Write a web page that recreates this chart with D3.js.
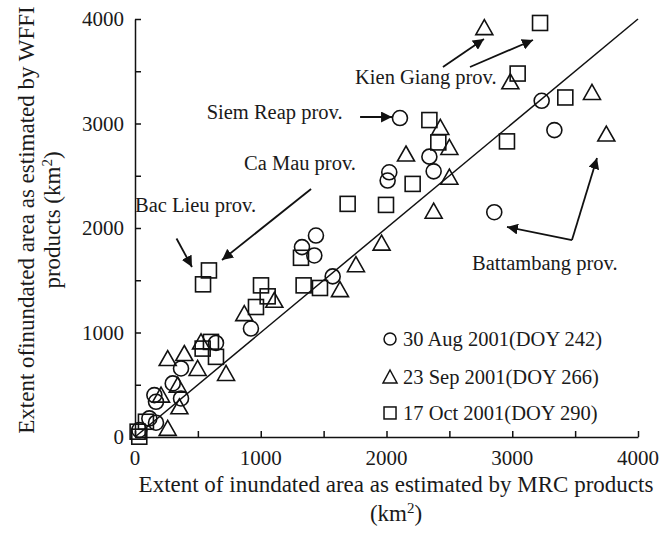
<!DOCTYPE html>
<html>
<head>
<meta charset="utf-8">
<script src="https://cdn.jsdelivr.net/npm/d3@7"></script>
<style>
  body { margin: 0; background: #fff; }
  text { font-family: "Liberation Serif", "Times New Roman", serif; fill: #1a1a1a; }
</style>
</head>
<body>
<div id="wrapper"></div>
<script>
// values: [MRC km2, WFFI km2]
const doy242 = [
  [34, 67], [114, 178], [167, 137], [154, 401], [167, 337], [300, 513], [366, 369], [366, 656],
  [644, 900], [922, 1038], [1328, 1817], [1426, 1737], [1439, 1928], [1572, 1537], [2009, 2454],
  [2022, 2533], [2107, 3052], [2341, 2683], [2375, 2542], [2857, 2151], [3234, 3217], [3335, 2937]
]
const doy266 = [
  [260, 83], [207, 401], [353, 289], [340, 496], [498, 656], [724, 608], [260, 751], [392, 799],
  [525, 910], [869, 1181], [1108, 1308], [1630, 1410], [1757, 1649], [1961, 1855], [2155, 2708],
  [2375, 2161], [2428, 2962], [2500, 2771], [2500, 2486], [2778, 3917], [2985, 3399], [3634, 3297],
  [3748, 2899]
]
const doy290 = [
  [34, 3], [21, 51], [87, 146], [538, 846], [604, 910], [644, 767], [541, 1461], [588, 1594],
  [962, 1244], [1002, 1451], [1055, 1346], [1320, 1715], [1341, 1451], [1471, 1426], [1691, 2231],
  [1996, 2221], [2208, 2422], [2341, 3033], [2412, 2819], [2958, 2829], [3043, 3478], [3221, 3962],
  [3422, 3249]
]
const seriesNames = ["30 Aug 2001(DOY 242)", "23 Sep 2001(DOY 266)", "17 Oct 2001(DOY 290)"]
const axisTicks = [0, 500, 1000, 1500, 2000, 2500, 3000, 3500, 4000]
const tickLabels = [0, 1000, 2000, 3000, 4000]
const oneToOne = [[0, 0], [4000, 4000]]

async function drawChart() {

let dimensions = {
  width: 663,
  height: 544,
  margin: {
    top: 19,
    right: 25,
    bottom: 107,
    left: 135,
  },
}
dimensions.boundedWidth = dimensions.width
  - dimensions.margin.left
  - dimensions.margin.right
dimensions.boundedHeight = dimensions.height
  - dimensions.margin.top
  - dimensions.margin.bottom

const wrapper = d3.select("#wrapper")
  .append("svg")
    .attr("width", dimensions.width)
    .attr("height", dimensions.height)

const xScale = d3.scaleLinear()
  .domain([0, 4000])
  .range([dimensions.margin.left, dimensions.margin.left + dimensions.boundedWidth])
const yScale = d3.scaleLinear()
  .domain([0, 4000])
  .range([dimensions.margin.top + dimensions.boundedHeight, dimensions.margin.top])

const x0 = xScale(0), y0 = yScale(0)

// arrowhead
wrapper.append("defs").append("marker")
    .attr("id", "head")
    .attr("viewBox", "0 0 10 10")
    .attr("refX", 10).attr("refY", 5)
    .attr("markerWidth", 11).attr("markerHeight", 11)
    .attr("markerUnits", "userSpaceOnUse")
    .attr("orient", "auto")
  .append("path")
    .attr("d", "M0,0 L10,5 L0,10 Z")
    .attr("fill", "#111")

// axes, ticks point inward
const xAxis = d3.axisBottom(xScale)
  .tickValues(axisTicks)
  .tickSizeInner(-6)
  .tickSizeOuter(0)
  .tickFormat("")
const yAxis = d3.axisLeft(yScale)
  .tickValues(axisTicks)
  .tickSizeInner(-6)
  .tickSizeOuter(0)
  .tickFormat("")

wrapper.append("g")
  .attr("transform", `translate(0,${y0})`)
  .call(xAxis)
wrapper.append("g")
  .attr("transform", `translate(${x0},0)`)
  .call(yAxis)
wrapper.selectAll(".domain, .tick line")
  .attr("stroke", "#111")
  .attr("stroke-width", 1.5)

wrapper.append("g").selectAll("text")
  .data(tickLabels)
  .join("text")
    .attr("x", d => xScale(d))
    .attr("y", y0 + 21)
    .attr("dy", "0.35em")
    .attr("text-anchor", "middle")
    .style("font-size", "21px")
    .text(d => d)
wrapper.append("g").selectAll("text")
  .data(tickLabels)
  .join("text")
    .attr("x", x0 - 11)
    .attr("y", d => yScale(d))
    .attr("dy", "0.35em")
    .attr("text-anchor", "end")
    .style("font-size", "21px")
    .text(d => d)

// axis titles
wrapper.append("text")
  .attr("x", 396).attr("y", 484)
  .attr("dy", "0.35em")
  .attr("text-anchor", "middle")
  .style("font-size", "23px")
  .text("Extent of inundated area as estimated by MRC products")
const kmX = wrapper.append("text")
  .attr("x", 396).attr("y", 513)
  .attr("dy", "0.35em")
  .attr("text-anchor", "middle")
  .style("font-size", "23px")
kmX.append("tspan").text("(km")
kmX.append("tspan").attr("baseline-shift", "super").style("font-size", "15px").text("2")
kmX.append("tspan").text(")")

const yTitle = wrapper.append("g")
  .attr("transform", `translate(26,220) rotate(-90)`)
yTitle.append("text")
  .attr("text-anchor", "middle")
  .attr("dy", "0.35em")
  .style("font-size", "23px")
  .text("Extent ofinundated area as estimated by WFFI")
const kmY = yTitle.append("text")
  .attr("y", 26)
  .attr("text-anchor", "middle")
  .attr("dy", "0.35em")
  .style("font-size", "23px")
kmY.append("tspan").text("products (km")
kmY.append("tspan").attr("baseline-shift", "super").style("font-size", "15px").text("2")
kmY.append("tspan").text(")")

// 1:1 line
wrapper.append("path")
  .datum(oneToOne)
  .attr("d", d3.line().x(d => xScale(d[0])).y(d => yScale(d[1])))
  .attr("fill", "none")
  .attr("stroke", "#111")
  .attr("stroke-width", 1.5)

// symbols
const shapes = [
  sel => sel.append("circle").attr("r", 7.5),
  sel => sel.append("path").attr("d", "M0,-8 L8.5,7 L-8.5,7 Z"),
  sel => sel.append("rect").attr("x", -7.5).attr("y", -7.5).attr("width", 15).attr("height", 15),
]
const smallShapes = [
  sel => sel.append("circle").attr("r", 6),
  sel => sel.append("path").attr("d", "M0,-7 L7,6 L-7,6 Z"),
  sel => sel.append("rect").attr("x", -6).attr("y", -6).attr("width", 12).attr("height", 12),
]

;[doy242, doy266, doy290].forEach((series, i) => {
  const pts = wrapper.append("g").selectAll("g")
    .data(series)
    .join("g")
      .attr("transform", d => `translate(${xScale(d[0])},${yScale(d[1])})`)
  shapes[i](pts)
    .attr("fill", "none")
    .attr("stroke", "#111")
    .attr("stroke-width", 1.6)
})

// legend
const legendRows = [938, 574, 230]
seriesNames.forEach((name, i) => {
  const row = wrapper.append("g")
    .attr("transform", `translate(${xScale(2028)},${yScale(legendRows[i])})`)
  smallShapes[i](row)
    .attr("fill", "none")
    .attr("stroke", "#111")
    .attr("stroke-width", 1.5)
  row.append("text")
    .attr("x", 13)
    .attr("dy", "0.35em")
    .style("font-size", "20.5px")
    .text(name)
})

// province labels and arrows (data units)
const labels = [
  { text: "Kien Giang prov.", x: 1750, y: 3445, anchor: "start" },
  { text: "Siem Reap prov.", x: 570, y: 3110, anchor: "start" },
  { text: "Ca Mau prov.", x: 867, y: 2622, anchor: "start" },
  { text: "Bac Lieu prov.", x: 0, y: 2220, anchor: "start" },
  { text: "Battambang prov.", x: 2680, y: 1665, anchor: "start" },
]
wrapper.append("g").selectAll("text")
  .data(labels)
  .join("text")
    .attr("x", d => xScale(d.x))
    .attr("y", d => yScale(d.y))
    .attr("dy", "0.35em")
    .attr("text-anchor", d => d.anchor)
    .style("font-size", "20.5px")
    .text(d => d.text)

const arrows = [
  [[1790, 3062], [2044, 3062]],
  [[2449, 3541], [2775, 3809]],
  [[2664, 3541], [3165, 3799]],
  [[1400, 2373], [692, 1694]],
  [[330, 1900], [453, 1627]],
  [[3475, 1885], [2958, 2010]],
  [[3475, 1885], [3674, 2670]],
]
wrapper.append("g").selectAll("path")
  .data(arrows)
  .join("path")
    .attr("d", d3.line().x(d => xScale(d[0])).y(d => yScale(d[1])))
    .attr("stroke", "#111")
    .attr("stroke-width", 1.8)
    .attr("fill", "none")
    .attr("marker-end", "url(#head)")

}
drawChart()
</script>
</body>
</html>
